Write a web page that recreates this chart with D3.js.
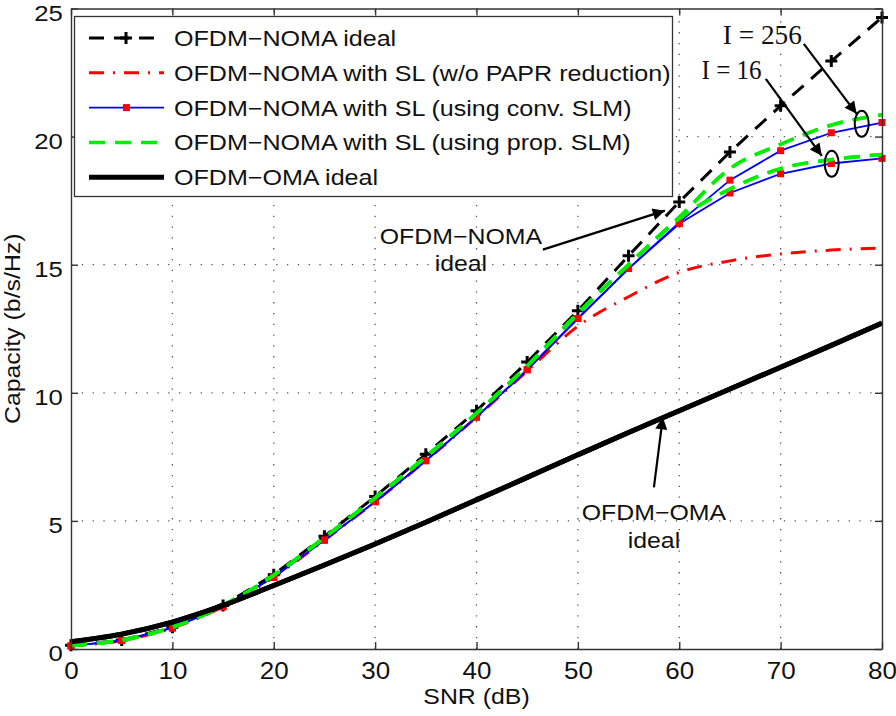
<!DOCTYPE html>
<html>
<head>
<meta charset="utf-8">
<style>
  body { margin: 0; background: #fff; }
  svg text { font-family: "Liberation Sans", Arial, sans-serif; fill: #111; }
  .grid line { stroke: #555; stroke-width: 1.3; stroke-dasharray: 1.3 9.5; }
  .serif { font-family: "Liberation Serif", "Times New Roman", serif; }
</style>
</head>
<body>
<div id="chart"></div>
<script src="https://d3js.org/d3.v7.min.js"></script>
<script>
// SNR points (dB)
var snr = [0, 5, 10, 15, 20, 25, 30, 35, 40, 45, 50, 55, 60, 65, 70, 75, 80];

var nomaIdeal = [0.15, 0.35, 0.85, 1.7, 2.9, 4.4, 5.95, 7.6, 9.3, 11.2, 13.2, 15.35, 17.45, 19.4, 21.2, 22.95, 24.65];
var noPapr    = [0.12, 0.33, 0.82, 1.65, 2.8, 4.25, 5.75, 7.35, 9.05, 10.85, 12.6, 13.75, 14.7, 15.15, 15.42, 15.57, 15.65];
var conv256   = [0.12, 0.33, 0.82, 1.65, 2.8, 4.25, 5.75, 7.35, 9.05, 10.9, 12.9, 14.85, 16.65, 18.3, 19.45, 20.15, 20.55];
var conv16    = [0.12, 0.33, 0.82, 1.65, 2.8, 4.25, 5.75, 7.35, 9.05, 10.9, 12.9, 14.85, 16.6, 17.8, 18.55, 18.95, 19.15];
var prop256   = [0.14, 0.35, 0.85, 1.7, 2.88, 4.35, 5.9, 7.5, 9.2, 11.05, 13.1, 15.0, 16.85, 18.75, 19.7, 20.45, 20.85];
var prop16    = [0.14, 0.35, 0.85, 1.7, 2.88, 4.35, 5.9, 7.5, 9.2, 11.05, 13.1, 15.0, 16.8, 17.95, 18.75, 19.1, 19.3];
var omaIdeal  = [0.28, 0.58, 1.05, 1.7, 2.48, 3.28, 4.1, 4.95, 5.82, 6.7, 7.58, 8.45, 9.3, 10.15, 11.0, 11.85, 12.72];

var xTicks = [0, 10, 20, 30, 40, 50, 60, 70, 80];
var yTicks = [0, 5, 10, 15, 20, 25];

var legendLabels = [
  "OFDM\u2212NOMA ideal",
  "OFDM\u2212NOMA with SL (w/o PAPR reduction)",
  "OFDM\u2212NOMA with SL (using conv. SLM)",
  "OFDM\u2212NOMA with SL (using prop. SLM)",
  "OFDM\u2212OMA ideal"
];

var width = 896, height = 716;
var margin = {left: 71, right: 14, top: 8.5, bottom: 67};
var sx = 1.13; // horizontal stretch of the sans text in the original

var svg = d3.select("#chart").append("svg")
  .attr("width", width)
  .attr("height", height);

var x = d3.scaleLinear().domain([0, 80]).range([margin.left, width - margin.right]);
var y = d3.scaleLinear().domain([0, 25]).range([height - margin.bottom, margin.top]);

var x0 = x.range()[0], x1 = x.range()[1], y0 = y.range()[0], y1 = y.range()[1];

function label(px, py, str, size, anchor) {
  return svg.append("text")
    .attr("transform", "translate(" + px + "," + py + ") scale(" + sx + ",1)")
    .attr("text-anchor", anchor || "start")
    .attr("font-size", size)
    .text(str);
}

// grid
var grid = svg.append("g").attr("class", "grid");
grid.selectAll(".gx").data(xTicks.slice(1, -1)).enter().append("line")
  .attr("x1", d => x(d)).attr("x2", d => x(d)).attr("y1", y0).attr("y2", y1);
grid.selectAll(".gy").data(yTicks.slice(1, -1)).enter().append("line")
  .attr("y1", d => y(d)).attr("y2", d => y(d)).attr("x1", x0).attr("x2", x1);

// series
var line = d3.line().x((d, i) => x(snr[i])).y(d => y(d));
var smooth = d3.line().x((d, i) => x(snr[i])).y(d => y(d)).curve(d3.curveMonotoneX);
var plot = svg.append("g");

var series = [
  {data: nomaIdeal, color: "#000", w: 3, dash: "15,10", gen: line},
  {data: noPapr, color: "#ff0000", w: 3, dash: "15,9,2,9", gen: smooth},
  {data: conv256, color: "#0000ff", w: 1.8, dash: null, gen: line, sq: true},
  {data: conv16, color: "#0000ff", w: 1.8, dash: null, gen: line, sq: true},
  {data: prop256, color: "#00ee00", w: 3.5, dash: "16,10", gen: smooth},
  {data: prop16, color: "#00ee00", w: 3.5, dash: "16,10", gen: smooth},
  {data: omaIdeal, color: "#000", w: 5, dash: null, gen: smooth}
];

plot.append("g").selectAll("path").data(nomaIdeal).enter().append("path")
  .attr("d", (d, i) => { var cx = x(snr[i]), cy = y(d);
    return "M" + (cx - 6) + "," + cy + "H" + (cx + 6) + "M" + cx + "," + (cy - 6) + "V" + (cy + 6); })
  .attr("stroke", "#000").attr("stroke-width", 3);

series.forEach(function(s) {
  plot.append("path").datum(s.data)
    .attr("d", s.gen)
    .attr("fill", "none")
    .attr("stroke", s.color)
    .attr("stroke-width", s.w)
    .attr("stroke-dasharray", s.dash);
  if (s.sq) {
    plot.append("g").selectAll("rect").data(s.data).enter().append("rect")
      .attr("x", (d, i) => x(snr[i]) - 3.5).attr("y", d => y(d) - 3.5)
      .attr("width", 7).attr("height", 7).attr("fill", "#ff0000");
  }
});
series.slice(4, 6).forEach(function(s) {
  plot.append("path").datum(s.data).attr("d", s.gen).attr("fill", "none")
    .attr("stroke", s.color).attr("stroke-width", s.w).attr("stroke-dasharray", s.dash);
});
plot.append("path").datum(omaIdeal).attr("d", smooth).attr("fill", "none")
  .attr("stroke", "#000").attr("stroke-width", 5);

// axes box with inward ticks
var axColor = "#333";
svg.append("g").attr("transform", "translate(0," + y0 + ")")
  .call(d3.axisBottom(x).tickValues(xTicks).tickSizeInner(-7).tickSizeOuter(0).tickPadding(14))
  .call(g => g.selectAll("text").attr("font-size", 23).attr("transform", "scale(" + sx + ",1)"));
svg.append("g").attr("transform", "translate(0," + y1 + ")")
  .call(d3.axisTop(x).tickValues(xTicks).tickSizeInner(-7).tickSizeOuter(0).tickFormat(""));
svg.append("g").attr("transform", "translate(" + x0 + ",0)")
  .call(d3.axisLeft(y).tickValues(yTicks).tickSizeInner(-7).tickSizeOuter(0).tickPadding(7))
  .call(g => g.selectAll("text").attr("font-size", 22).attr("dy", 11.5)
    .attr("transform", "scale(" + (sx + 0.04) + ",1)"));
svg.append("g").attr("transform", "translate(" + x1 + ",0)")
  .call(d3.axisRight(y).tickValues(yTicks).tickSizeInner(-7).tickSizeOuter(0).tickFormat(""));
svg.selectAll(".domain, .tick line").attr("stroke", axColor).attr("stroke-width", 1.4);
svg.selectAll(".tick text").attr("font-family", "Liberation Sans, Arial, sans-serif").attr("fill", "#111");

label((x0 + x1) / 2, 704, "SNR (dB)", 22, "middle");
svg.append("text").attr("transform", "translate(20," + ((y0 + y1) / 2) + ") rotate(-90) scale(" + sx + ",1)")
  .attr("text-anchor", "middle").attr("font-size", 22).text("Capacity (b/s/Hz)");

// legend
var lg = svg.append("g");
lg.append("rect").attr("x", 74.5).attr("y", 16.5).attr("width", 598).attr("height", 180)
  .attr("fill", "#fff").attr("stroke", "#333").attr("stroke-width", 1.3);
var rowY = d => 38 + d * 34.8;
var legendStyles = [series[0], series[1], series[2], series[4], series[6]];
legendStyles.forEach(function(s, i) {
  lg.append("line").attr("x1", 89).attr("x2", 164).attr("y1", rowY(i)).attr("y2", rowY(i))
    .attr("stroke", s.color).attr("stroke-width", s.w).attr("stroke-dasharray", s.dash);
  lg.append("text")
    .attr("transform", "translate(174," + (rowY(i) + 8) + ") scale(" + (sx + 0.01) + ",1)")
    .attr("font-size", 22).text(legendLabels[i]);
});
lg.append("path").attr("d", "M120,38H132M126,32V44").attr("stroke", "#000").attr("stroke-width", 3);
lg.append("rect").attr("x", 123).attr("y", rowY(2) - 3.5).attr("width", 7).attr("height", 7).attr("fill", "#ff0000");

// annotations
svg.append("defs").append("marker").attr("id", "ah")
  .attr("viewBox", "0 0 10 10").attr("refX", 10).attr("refY", 5)
  .attr("markerWidth", 8.5).attr("markerHeight", 5.5).attr("markerUnits", "strokeWidth")
  .attr("orient", "auto")
  .append("path").attr("d", "M0,0L10,5L0,10Z").attr("fill", "#000");

function arrow(a, b) {
  svg.append("line").attr("x1", x(a[0])).attr("y1", y(a[1])).attr("x2", x(b[0])).attr("y2", y(b[1]))
    .attr("stroke", "#000").attr("stroke-width", 2.2).attr("marker-end", "url(#ah)");
}
arrow([46.55, 15.59], [58.58, 17.11]);
arrow([57.5, 6.31], [58.38, 9.05]);
arrow([72.29, 23.62], [77.5, 20.89]);
arrow([68.54, 22.25], [74.06, 19.25]);

label(x(38.46), y(15.82), "OFDM\u2212NOMA", 22, "middle");
label(x(38.46), y(14.77), "ideal", 22, "middle");
label(x(57.5), y(5.03), "OFDM\u2212OMA", 22, "middle");
label(x(57.5), y(3.94), "ideal", 22, "middle");

svg.append("text").attr("class", "serif").attr("x", x(64.3)).attr("y", y(23.62)).attr("font-size", 27)
  .attr("textLength", 79).attr("lengthAdjust", "spacingAndGlyphs").text("I = 256");
svg.append("text").attr("class", "serif").attr("x", x(62.2)).attr("y", y(22.25)).attr("font-size", 27)
  .attr("textLength", 60).attr("lengthAdjust", "spacingAndGlyphs").text("I = 16");

[[78.0, 20.5], [75.04, 18.94]].forEach(function(e) {
  svg.append("ellipse").attr("cx", x(e[0])).attr("cy", y(e[1])).attr("rx", 7).attr("ry", 13)
    .attr("fill", "none").attr("stroke", "#000").attr("stroke-width", 2);
});
</script>
</body>
</html>
